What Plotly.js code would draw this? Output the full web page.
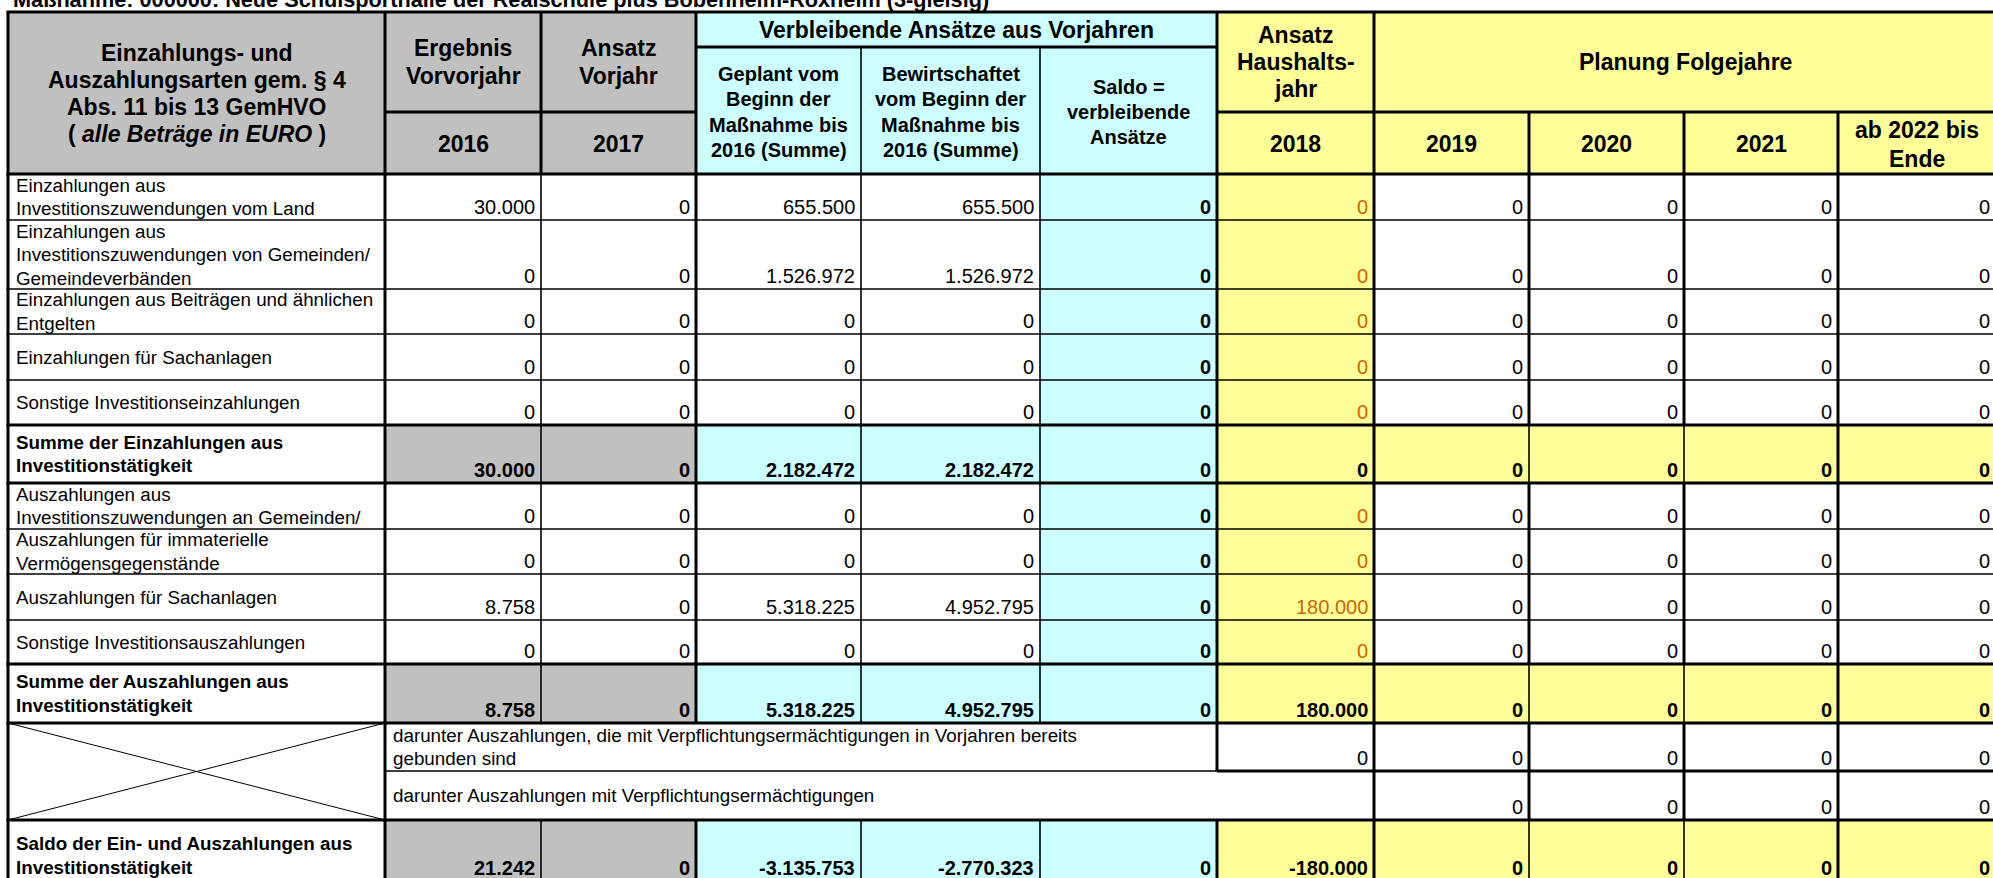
<!DOCTYPE html>
<html><head><meta charset="utf-8">
<script src="https://cdn.plot.ly/plotly-3.0.1.min.js"></script>
<style>html,body{margin:0;padding:0;background:#fff;overflow:hidden}</style>
</head><body><div id="chart" style="width:1993px;height:878px"></div>
<script>
// ---------------- DATA ----------------
const titleText = "Maßnahme: 000000: Neue Schulsporthalle der Realschule plus Bobenheim-Roxheim (3-gleisig)";
const headerFirstCol = ["Einzahlungs- und", "Auszahlungsarten gem. § 4", "Abs. 11 bis 13 GemHVO", "( <i>alle Beträge in EURO</i> )"];
const groupVerbleibend = "Verbleibende Ansätze aus Vorjahren";
const groupPlanung = "Planung Folgejahre";
const columnTitles = ["Ergebnis<br>Vorvorjahr", "Ansatz<br>Vorjahr",
  "Geplant vom<br>Beginn der<br>Maßnahme bis<br>2016 (Summe)",
  "Bewirtschaftet<br>vom Beginn der<br>Maßnahme bis<br>2016 (Summe)",
  "Saldo =<br>verbleibende<br>Ansätze", "Ansatz<br>Haushalts-<br>jahr"];
const yearLabels = ["2016", "2017", null, null, null, "2018", "2019", "2020", "2021", "ab 2022 bis<br>Ende"];

const rowLabels = [
  "Einzahlungen aus<br>Investitionszuwendungen vom Land",
  "Einzahlungen aus<br>Investitionszuwendungen von Gemeinden/<br>Gemeindeverbänden",
  "Einzahlungen aus Beiträgen und ähnlichen<br>Entgelten",
  "Einzahlungen für Sachanlagen",
  "Sonstige Investitionseinzahlungen",
  "Summe der Einzahlungen aus<br>Investitionstätigkeit",
  "Auszahlungen aus<br>Investitionszuwendungen an Gemeinden/",
  "Auszahlungen für immaterielle<br>Vermögensgegenstände",
  "Auszahlungen für Sachanlagen",
  "Sonstige Investitionsauszahlungen",
  "Summe der Auszahlungen aus<br>Investitionstätigkeit",
  "darunter Auszahlungen, die mit Verpflichtungsermächtigungen in Vorjahren bereits<br>gebunden sind",
  "darunter Auszahlungen mit Verpflichtungsermächtigungen",
  "Saldo der Ein- und Auszahlungen aus<br>Investitionstätigkeit"
];
// n = normal, s = sum, v1/v2 = "darunter" rows
const rowKinds = ["n","n","n","n","n","s","n","n","n","n","s","v1","v2","s"];

const ergebnis2016   = [30000, 0, 0, 0, 0, 30000, 0, 0, 8758, 0, 8758, null, null, 21242];
const ansatz2017     = [0, 0, 0, 0, 0, 0, 0, 0, 0, 0, 0, null, null, 0];
const geplantBis2016 = [655500, 1526972, 0, 0, 0, 2182472, 0, 0, 5318225, 0, 5318225, null, null, -3135753];
const bewirtBis2016  = [655500, 1526972, 0, 0, 0, 2182472, 0, 0, 4952795, 0, 4952795, null, null, -2770323];
const saldoVerbl     = [0, 0, 0, 0, 0, 0, 0, 0, 0, 0, 0, null, null, 0];
const ansatz2018     = [0, 0, 0, 0, 0, 0, 0, 0, 180000, 0, 180000, 0, null, -180000];
const plan2019       = [0, 0, 0, 0, 0, 0, 0, 0, 0, 0, 0, 0, 0, 0];
const plan2020       = [0, 0, 0, 0, 0, 0, 0, 0, 0, 0, 0, 0, 0, 0];
const plan2021       = [0, 0, 0, 0, 0, 0, 0, 0, 0, 0, 0, 0, 0, 0];
const planAb2022     = [0, 0, 0, 0, 0, 0, 0, 0, 0, 0, 0, 0, 0, 0];
const valueColumns = [ergebnis2016, ansatz2017, geplantBis2016, bewirtBis2016, saldoVerbl, ansatz2018, plan2019, plan2020, plan2021, planAb2022];

// ---------------- LAYOUT (positions / styles) ----------------
const colE = [8, 385, 541, 696, 861, 1040, 1217, 1374, 1529, 1684, 1838, 1996];
const rowE = [174, 220, 289, 334, 380, 425, 483, 529, 574, 620, 664, 723, 771, 820, 881];
const hTop = 12, hMid1 = 47, hMid2 = 112, hBot = 174;
const GRAY = "#C0C0C0", CYAN = "#CCFFFF", YEL = "#FFFF99";
const FONT = "Liberation Sans, Arial, sans-serif";
const TH = 3, TN = 1.6;
const HF = 23, SHF = 20, LF = 18.8, VF = 20;
const col7Color = "#CC6600";

const shapes = [];
const ann = [];
function rect(x0, x1, y0, y1, color) {
  shapes.push({type: "rect", xref: "x", yref: "y", x0, x1, y0, y1, fillcolor: color, line: {width: 0}, layer: "below"});
}
function seg(x0, y0, x1, y1, w) {
  shapes.push({type: "line", xref: "x", yref: "y", x0, y0, x1, y1, line: {color: "#000", width: w}});
}
function txt(text, x, y, size, xanchor, opts) {
  opts = opts || {};
  ann.push({text, x, y, xref: "x", yref: "y", xanchor, yanchor: "middle", showarrow: false,
    font: {family: FONT, size, color: opts.color || "#000"}, align: xanchor === "center" ? "center" : xanchor});
}
function lines(text, x, yc, size, spacing, xanchor, bold) {
  const parts = text.split("<br>");
  const n = parts.length;
  parts.forEach((p, i) => {
    txt(bold ? "<b>" + p + "</b>" : p, x, yc + (i - (n - 1) / 2) * spacing, size, xanchor);
  });
}
function fmt(v) {
  const s = Math.abs(v).toString().replace(/\B(?=(\d{3})+(?!\d))/g, ".");
  return (v < 0 ? "-" : "") + s;
}

// header fills
rect(colE[0], colE[3], hTop, hBot, GRAY);
rect(colE[3], colE[6], hTop, hBot, CYAN);
rect(colE[6], colE[11], hTop, hBot, YEL);

// body fills
const normalFill = ["#FFFFFF", "#FFFFFF", "#FFFFFF", "#FFFFFF", "#FFFFFF", CYAN, YEL, "#FFFFFF", "#FFFFFF", "#FFFFFF", "#FFFFFF"];
const sumFill = ["#FFFFFF", GRAY, GRAY, CYAN, CYAN, CYAN, YEL, YEL, YEL, YEL, YEL];
rowKinds.forEach((k, r) => {
  if (k === "v1" || k === "v2") return;
  const fills = k === "s" ? sumFill : normalFill;
  for (let c = 0; c < 11; c++) rect(colE[c], colE[c + 1], rowE[r], rowE[r + 1], fills[c]);
});

// header texts
const cx = c => (colE[c] + colE[c + 1]) / 2;
lines(headerFirstCol.join("<br>"), cx(0), (hTop + hBot) / 2, HF, 27, "center", true);
lines(groupVerbleibend, (colE[3] + colE[6]) / 2, (hTop + hMid1) / 2 + 0.5, HF, 27, "center", true);
lines(groupPlanung, (colE[7] + colE[11]) / 2, (hTop + hMid2) / 2, HF, 27, "center", true);
columnTitles.forEach((t, i) => {
  const c = i + 1;
  if (c === 3 || c === 4 || c === 5) lines(t, cx(c), (hMid1 + hBot) / 2 + 1.5, SHF, 25.3, "center", true);
  else lines(t, cx(c), (hTop + hMid2) / 2, HF, 27.3, "center", true);
});
yearLabels.forEach((t, i) => {
  if (!t) return;
  lines(t, cx(i + 1), (hMid2 + hBot) / 2 + 1, HF, 29, "center", true);
});

// title (only its lower half lies inside the picture, as in the reference)
ann.push({text: "<b>" + titleText + "</b>", x: 11, y: 1, xref: "x", yref: "paper", xanchor: "left", yanchor: "middle",
  yshift: 1, showarrow: false, font: {family: FONT, size: 21.7, color: "#000"}});

// row labels
rowKinds.forEach((k, r) => {
  let yc = (rowE[r] + rowE[r + 1]) / 2;
  if (r === rowKinds.length - 1) yc += 5;
  const x = (k === "v1" || k === "v2") ? colE[1] + 6 : colE[0] + 6;
  lines(rowLabels[r], x, yc, LF, 23.5, "left", k === "s");
});

// values
rowKinds.forEach((k, r) => {
  valueColumns.forEach((col, i) => {
    const v = col[r];
    if (v === null || v === undefined) return;
    const c = i + 1;
    const bold = k === "s" || c === 5;
    let color = "#000";
    if (c === 6 && k === "n") color = col7Color;
    const s = bold ? "<b>" + fmt(v) + "</b>" : fmt(v);
    ann.push({text: s, x: colE[c + 1] - 4, y: rowE[r + 1] - 13.5, xref: "x", yref: "y", xanchor: "right", yanchor: "middle",
      showarrow: false, font: {family: FONT, size: VF, color}});
  });
});

// vertical lines
function vl(x, y0, y1, w) { seg(x, y0, x, y1, w); }
vl(colE[0], hTop, 881, TH);
vl(colE[1], hTop, 881, TH);
vl(colE[2], hTop, hBot, TH); vl(colE[2], hBot, rowE[11], TN); vl(colE[2], rowE[13], 881, TN);
vl(colE[3], hTop, rowE[11], TH); vl(colE[3], rowE[13], 881, TH);
[4, 5].forEach(c => { vl(colE[c], hMid1, hBot, TN); vl(colE[c], hBot, rowE[11], TN); vl(colE[c], rowE[13], 881, TN); });
vl(colE[6], hTop, rowE[12], TH); vl(colE[6], rowE[13], 881, TH);
vl(colE[7], hTop, 881, TH);
[8, 9].forEach(c => {
  vl(colE[c], hMid2, rowE[0], TH);
  rowKinds.forEach((k, r) => vl(colE[c], rowE[r], rowE[r + 1], k === "s" ? TN : TH));
});
vl(colE[10], hMid2, 881, TH);

// horizontal lines
function hl(y, x0, x1, w) { seg(x0, y, x1, y, w); }
hl(hTop, colE[0] - 1.5, colE[11], TH);
hl(hMid1, colE[3], colE[6], TH);
hl(hMid2, colE[1], colE[3], TH);
hl(hMid2, colE[6], colE[11], TH);
hl(hBot, colE[0] - 1.5, colE[11], TH);
for (let r = 0; r < rowKinds.length - 1; r++) {
  const y = rowE[r + 1];
  const a = rowKinds[r], b = rowKinds[r + 1];
  if (a === "v1" && b === "v2") {
    hl(y, colE[1], colE[6], TN);
    hl(y, colE[6], colE[11], TH);
  } else {
    hl(y, colE[0] - 1.5, colE[11], (a === "s" || b === "s") ? TH : TN);
  }
}
// X in the empty first cell of the "darunter" block
seg(colE[0], rowE[11], colE[1], rowE[13], 1);
seg(colE[0], rowE[13], colE[1], rowE[11], 1);

const layout = {
  width: 1993, height: 878,
  margin: {l: 0, r: 0, t: 0, b: 0},
  paper_bgcolor: "#FFFFFF", plot_bgcolor: "#FFFFFF",
  xaxis: {range: [0, 1993], visible: false, fixedrange: true},
  yaxis: {range: [878, 0], visible: false, fixedrange: true},
  showlegend: false,
  shapes, annotations: ann
};
Plotly.newPlot("chart", [], layout, {staticPlot: true, displayModeBar: false});
</script>
</body></html>
